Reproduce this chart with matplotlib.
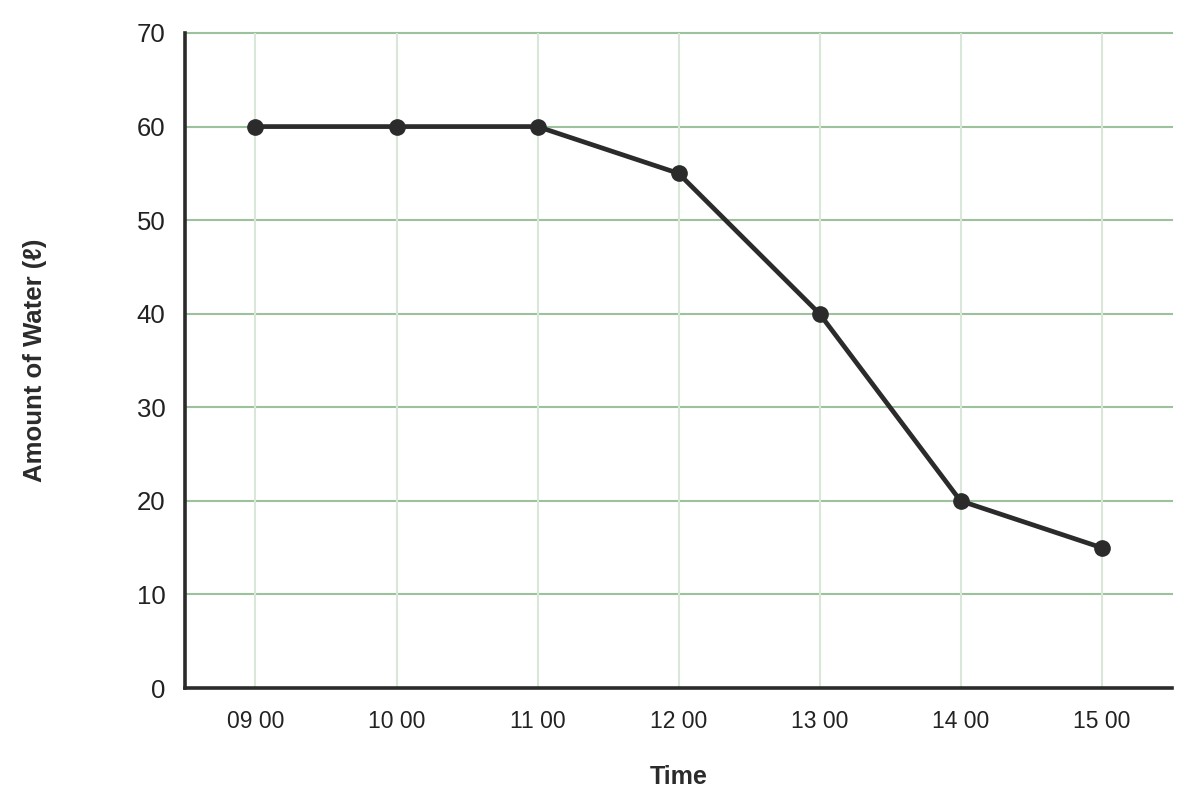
"""Amount of water over the day: simple line chart with dots."""
import matplotlib; matplotlib.use("Agg")
import matplotlib.pyplot as plt

times = ["09 00", "10 00", "11 00", "12 00", "13 00", "14 00", "15 00"]
water = [60, 60, 60, 55, 40, 20, 15]
yticks = [0, 10, 20, 30, 40, 50, 60, 70]

plt.rcParams["font.family"] = ["Liberation Sans", "DejaVu Sans"]
dark = "#2b2b2b"

fig = plt.figure(figsize=(11.95, 8.07), dpi=100)
ax = fig.add_axes([185/1195, 1 - 688/807, 987/1195, 655/807])

x = list(range(len(times)))
ax.plot(x, water, c=dark, lw=3.4, marker="o", ms=11, zorder=3, clip_on=False)

ax.set_xlim(-0.5, len(times) - 0.5)
ax.set_ylim(0, 70)
ax.set_xticks(x, times)
ax.set_yticks(yticks)

for y in yticks[1:]:
    ax.axhline(y, c="#9dc19d", lw=1.5, zorder=1, clip_on=False)
for xi in x:
    ax.axvline(xi, c="#d8e7d8", lw=1.5, zorder=1)

for s in ("top", "right"):
    ax.spines[s].set_visible(False)
for s in ("left", "bottom"):
    ax.spines[s].set_color(dark); ax.spines[s].set_linewidth(2.6)
ax.tick_params(axis="y", length=0, pad=14, labelsize=18.5, colors="#222222")
ax.tick_params(axis="x", length=0, pad=16, labelsize=16.5, colors="#222222")

ax.set_xlabel("Time", fontsize=18, fontweight="bold", color=dark, labelpad=23)
ax.set_ylabel("Amount of Water (ℓ)", fontsize=18.5, fontweight="bold", color=dark)
ax.yaxis.set_label_coords(-0.14, 0.5)

plt.savefig("out.png", dpi=100)
print("saved out.png")
